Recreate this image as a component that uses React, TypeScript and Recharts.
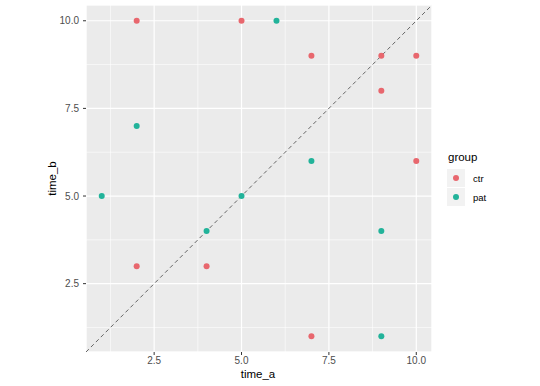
import React from 'react';
import { ScatterChart, Scatter, XAxis, YAxis, CartesianGrid, ReferenceLine, Label } from 'recharts';

// values
const ctrA = [2, 5, 7, 9, 10, 9, 10, 2, 4, 7];
const ctrB = [10, 10, 9, 9, 9, 8, 6, 3, 3, 1];
const patA = [6, 2, 1, 7, 5, 4, 9, 9];
const patB = [10, 7, 5, 6, 5, 4, 4, 1];

const majorTicks = [2.5, 5, 7.5, 10];
const minorTicks = [1.25, 3.75, 6.25, 8.75];
const domain: [number, number] = [0.55, 10.45];

const groups = ['ctr', 'pat'];
const COLORS = ['#E8676E', '#22B39A'];

const ctrData = ctrA.map((a, i) => ({ time_a: a, time_b: ctrB[i] }));
const patData = patA.map((a, i) => ({ time_a: a, time_b: patB[i] }));

const FONT = '"Liberation Sans", Arial, sans-serif';

const dot = (color: string) => (props: any) => (
  <circle cx={props.cx} cy={props.cy} r={3} fill={color} />
);

export default function App() {
  return (
    <div style={{ position: 'absolute', left: 0, top: 0, width: 540, height: 386, background: '#fff', fontFamily: FONT }}>
      <ScatterChart width={540} height={386} margin={{ top: 5, right: 108, bottom: 0, left: 0 }}>
        {/* hidden axes only for the minor grid lines */}
        <XAxis xAxisId='minor' dataKey='time_a' type='number' domain={domain} ticks={minorTicks} hide allowDataOverflow />
        <YAxis yAxisId='minor' dataKey='time_b' type='number' domain={domain} ticks={minorTicks} hide allowDataOverflow />
        <CartesianGrid xAxisId='minor' yAxisId='minor' fill='#EBEBEB' stroke='#FFFFFF' strokeWidth={0.6} />
        <CartesianGrid stroke='#FFFFFF' strokeWidth={1.2} />
        <XAxis
          dataKey='time_a'
          type='number'
          domain={domain}
          ticks={majorTicks}
          tickFormatter={(v) => v.toFixed(1)}
          height={34}
          axisLine={false}
          tickSize={3}
          tickMargin={2}
          tickLine={{ stroke: '#333333' }}
          tick={{ fill: '#4D4D4D', fontSize: 10 }}
          allowDataOverflow>
          <Label
            content={({ viewBox }: any) => (
              <text x={viewBox.x + viewBox.width / 2 - 1} y={viewBox.y + 26} textAnchor='middle' fontSize={11.5} fill='#000'>
                time_a
              </text>
            )}
          />
        </XAxis>
        <YAxis
          dataKey='time_b'
          type='number'
          domain={domain}
          ticks={majorTicks}
          tickFormatter={(v) => v.toFixed(1)}
          width={86}
          axisLine={false}
          tickSize={3}
          tickMargin={4}
          tickLine={{ stroke: '#333333' }}
          tick={{ fill: '#4D4D4D', fontSize: 10 }}
          allowDataOverflow>
          <Label
            content={({ viewBox }: any) => (
              <text
                transform={`translate(56, ${viewBox.y + viewBox.height / 2}) rotate(-90)`}
                textAnchor='middle'
                fontSize={11.5}
                fill='#000'>
                time_b
              </text>
            )}
          />
        </YAxis>
        <ReferenceLine
          segment={[
            { x: domain[0], y: domain[0] },
            { x: domain[1], y: domain[1] },
          ]}
          stroke='#555555'
          strokeWidth={0.9}
          strokeDasharray='4 3'
        />
        <Scatter name='ctr' data={ctrData} shape={dot(COLORS[0])} isAnimationActive={false} />
        <Scatter name='pat' data={patData} shape={dot(COLORS[1])} isAnimationActive={false} />
      </ScatterChart>

      {/* legend */}
      <div style={{ position: 'absolute', left: 448, top: 151, fontSize: 11.5, color: '#000' }}>group</div>
      {groups.map((g, i) => (
        <div key={g} style={{ position: 'absolute', left: 447, top: 169 + i * 19, height: 18, display: 'flex', alignItems: 'center' }}>
          <svg width={18} height={18} style={{ display: 'block' }}>
            <rect x={0} y={0} width={18} height={18} fill='#F2F2F2' />
            <circle cx={9} cy={9} r={3} fill={COLORS[i]} />
          </svg>
          <span style={{ marginLeft: 8, fontSize: 9.5 }}>{g}</span>
        </div>
      ))}
    </div>
  );
}
